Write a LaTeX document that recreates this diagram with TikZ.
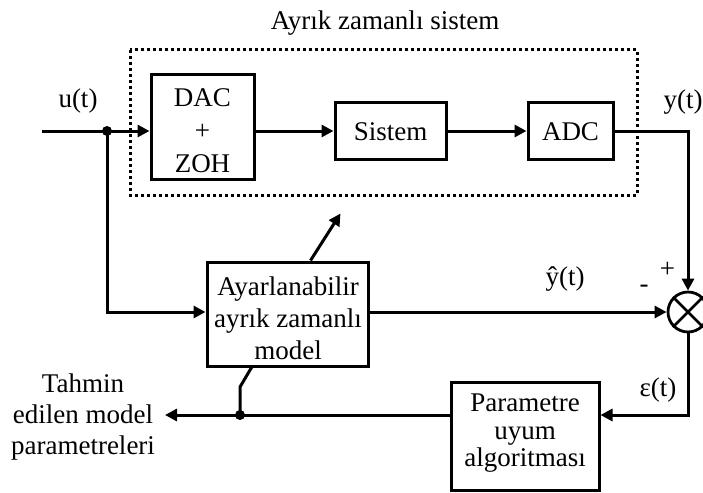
\documentclass[tikz,border=0pt]{standalone}
\usepackage{fontspec}
\setmainfont{Liberation Serif}
\usetikzlibrary{arrows.meta}
\begin{document}
\begin{tikzpicture}[x=1pt,y=-1pt,line width=3pt,
  box/.style={draw,line width=3pt,inner sep=0pt},
  lbl/.style={inner sep=0pt,font=\fontsize{27}{31}\selectfont},
  mtext/.style={lbl,align=center},
  arr/.style={-{Triangle[length=12pt,width=12pt]}},
  dotbox/.style={line width=3pt,dash pattern=on 3pt off 3pt},
  jdot/.style={circle,fill,inner sep=0pt,minimum size=10pt},
  ]
\useasboundingbox (0,0) rectangle (703,492);
% title and dotted frame
\node[lbl,anchor=base] (title) at (385,30) {Ayrık zamanlı sistem};
\draw[dotbox] (130,50) rectangle (637,195);
% blocks
\node[box,minimum width=103pt,minimum height=104pt] (dac) at (202.5,127) {};
\node[mtext,font=\fontsize{27}{33}\selectfont] (dact) at (202.5,131) {DAC\\+\\ZOH};
\node[box,minimum width=111pt,minimum height=56pt] (sis) at (390.5,131) {};
\node[lbl,anchor=base] (sist) at (390.5,140) {Sistem};
\node[box,minimum width=85pt,minimum height=56pt] (adc) at (570.5,131) {};
\node[lbl,anchor=base] (adct) at (570.5,140) {ADC};
\node[box,minimum width=161pt,minimum height=104pt] (model) at (287.5,314) {};
\node[mtext,font=\fontsize{27}{32}\selectfont] (modelt) at (288,318) {Ayarlanabilir\\ayrık zamanlı\\model};
\node[box,minimum width=148pt,minimum height=108pt] (par) at (525,436) {};
\node[mtext,font=\fontsize{27}{27.5}\selectfont] (part) at (525,433.5) {Parametre\\uyum\\algoritması};
\node[circle,draw,line width=2.8pt,minimum size=40pt,inner sep=0pt] (sum) at (688,312) {};
\draw[line width=2.8pt] (sum.north west) -- (sum.south east);
\draw[line width=2.8pt] (sum.north east) -- (sum.south west);
% junctions and free ends
\node[jdot] (ju) at (107,131) {};
\node[jdot] (jd) at (240,415) {};
\coordinate (in) at (42,131);
\coordinate (out) at (165,415);
% labels
\node[lbl,anchor=base] (ul) at (78,107) {u(t)};
\node[lbl,anchor=base] (yl) at (683,108) {y(t)};
\node[lbl,anchor=base] (yhl) at (565,285) {ŷ(t)};
\node[lbl,anchor=base] (el) at (658,396) {ε(t)};
\node[lbl] (plus) at (667.5,269.5) {+};
\node[lbl] (minus) at (644,289) {-};
\node[lbl,align=center,anchor=north] (tah) at (83,372) {Tahmin\\edilen model\\parametreleri};
% connectors
\draw[arr] (in) -- (in -| dac.west);
\draw[arr] (ju.center -| dac.east) -- (ju.center -| sis.west);
\draw[arr] (sis.east) -- (adc.west);
\draw[arr] (adc.east) -| (sum.north);
\draw[arr] (ju.center) |- (model.west |- sum.west);
\draw[arr] (model.east |- sum.west) -- (sum.west);
\draw[arr] (sum.south) |- (par.east |- jd.center);
\draw[arr] (par.west |- jd.center) -- (out);
\draw (jd.center) -- ++(0,-28) -- ([xshift=46pt]model.south west);
\draw[arr] ([xshift=105pt]model.north west) -- ++(30,-47);
\end{tikzpicture}
\end{document}
